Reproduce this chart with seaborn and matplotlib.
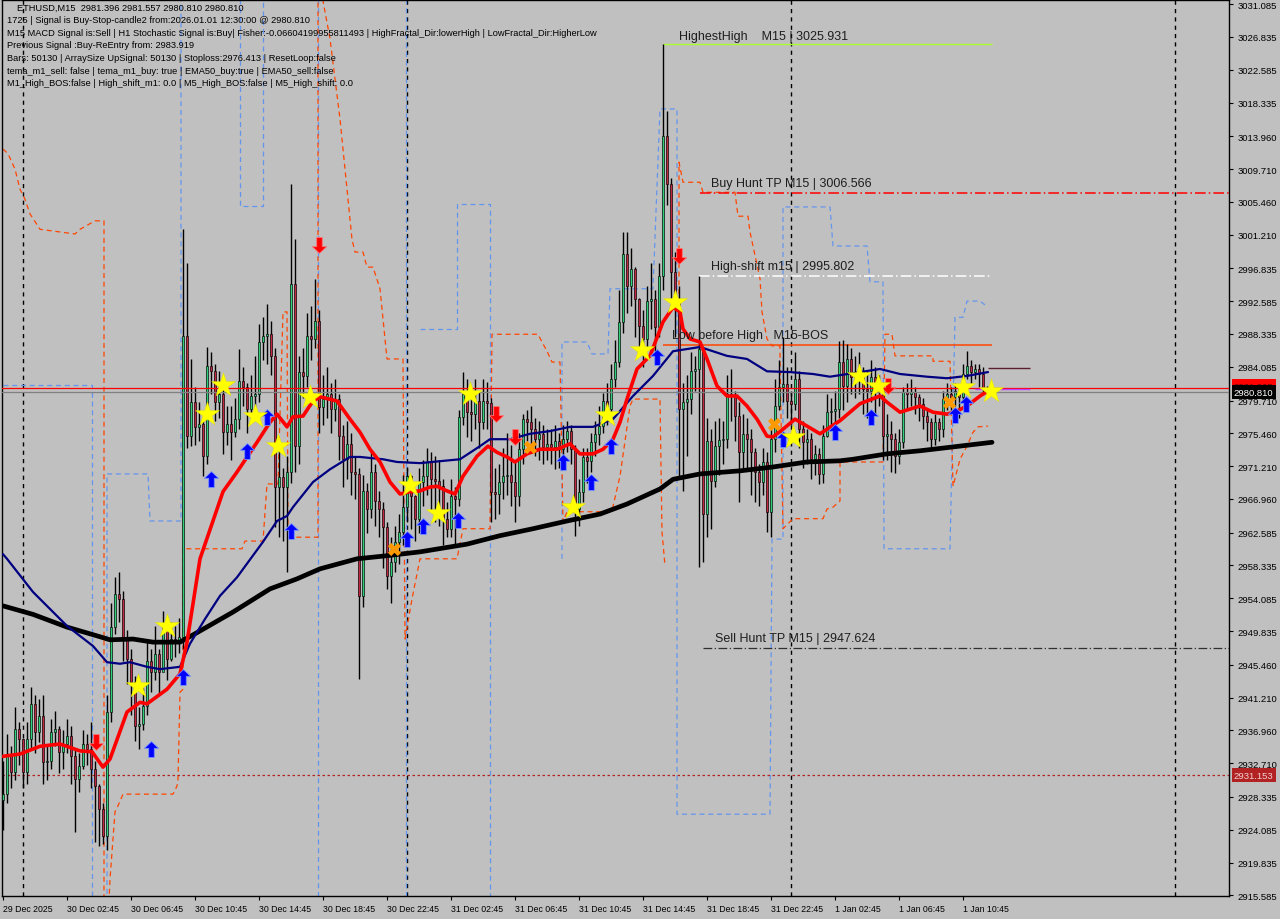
import numpy as np
import pandas as pd
import matplotlib
matplotlib.use("Agg")
import matplotlib.pyplot as plt
import matplotlib.transforms as mtransforms
from matplotlib.path import Path
import seaborn as sns

# ETHUSD M15 candles, bar 0 = 29 Dec 22:45, one bar per 15 min
first_open = 2927.9
closes = [
    2928.7, 2933.6, 2931.6, 2937.1, 2935.9, 2931.6, 2935.9, 2940.4, 2936.75, 2938.8,
    2932.9, 2933.0, 2936.75, 2937.1, 2934.2, 2935.2, 2936.2, 2933.6, 2930.7, 2932.3,
    2935.2, 2934.55, 2932.0, 2929.75, 2926.8, 2923.3, 2939.35, 2950.4, 2954.6, 2954.0,
    2948.8, 2946.2, 2943.2, 2937.5, 2937.8, 2940.1, 2946.0, 2944.5, 2946.9, 2944.5,
    2950.4, 2946.2, 2948.8, 2948.6, 2949.1, 2988.1, 2975.1, 2979.5, 2976.3, 2976.7,
    2972.5, 2984.2, 2983.5, 2979.5, 2980.6, 2975.6, 2976.7, 2975.6, 2977.3, 2982.2,
    2981.5, 2978.6, 2980.3, 2980.6, 2987.3, 2988.1, 2988.3, 2985.5, 2968.5, 2969.8,
    2968.5, 2970.45, 2994.8, 2973.8, 2983.4, 2982.9, 2988.1, 2987.7, 2990.0, 2978.9,
    2979.9, 2980.6, 2978.6, 2979.9, 2975.1, 2972.1, 2974.1, 2970.45, 2970.2, 2954.4,
    2968.0, 2965.65, 2970.45, 2966.7, 2965.65, 2963.3, 2957.0, 2958.8, 2961.4, 2962.7,
    2965.9, 2969.9, 2967.3, 2964.4, 2969.15, 2969.9, 2971.75, 2969.5, 2969.3, 2968.6,
    2964.4, 2963.1, 2967.3, 2967.0, 2977.6, 2980.6, 2978.2, 2978.0, 2979.65, 2976.9,
    2979.65, 2979.4, 2967.9, 2967.6, 2969.15, 2969.9, 2970.0, 2969.15, 2967.3, 2973.4,
    2977.3, 2976.9, 2976.0, 2974.7, 2975.4, 2973.7, 2974.1, 2973.7, 2974.5, 2973.4,
    2974.7, 2975.8, 2973.4, 2965.65, 2967.9, 2972.4, 2971.9, 2974.3, 2975.4, 2976.4,
    2979.65, 2978.6, 2982.5, 2984.7, 2989.9, 2998.7, 2994.55, 2996.8, 2992.9, 2989.4,
    2987.7, 2992.6, 2992.9, 2989.2, 2995.85, 3014.0, 3007.8, 2996.4, 2992.9, 2978.6,
    2979.5, 2979.9, 2983.5, 2983.8, 2986.4, 2965.0, 2974.5, 2969.3, 2973.8, 2974.6,
    2974.7, 2980.6, 2980.4, 2977.7, 2973.0, 2975.4, 2974.7, 2973.0, 2970.45, 2969.15,
    2971.75, 2965.3, 2974.7, 2979.0, 2981.5, 2981.85, 2979.65, 2979.3, 2982.5, 2976.0,
    2974.3, 2974.7, 2972.1, 2972.8, 2970.2, 2975.1, 2978.2, 2978.35, 2978.6, 2984.7,
    2981.6, 2985.1, 2982.8, 2983.2, 2983.5, 2981.2, 2980.95, 2982.8, 2981.2, 2981.5,
    2975.1, 2975.4, 2974.7, 2972.5, 2974.3, 2980.8, 2980.6, 2980.8, 2980.2, 2979.3,
    2977.7, 2976.9, 2974.7, 2976.9, 2976.0, 2979.9, 2980.6, 2980.2, 2980.95, 2980.2,
    2983.2, 2984.2, 2983.4, 2983.8, 2983.2, 2981.4, 2980.81,
]
highs = [
    2933.0, 2936.5, 2935.0, 2940.0, 2938.0, 2936.0, 2938.0, 2942.6, 2941.5, 2941.0,
    2941.5, 2935.0, 2938.5, 2939.5, 2937.5, 2937.0, 2938.5, 2937.5, 2934.5, 2934.0,
    2937.0, 2936.5, 2938.0, 2933.0, 2930.0, 2927.5, 2941.5, 2953.5, 2956.9, 2957.5,
    2955.0, 2950.0, 2947.5, 2944.0, 2940.0, 2942.5, 2948.5, 2947.5, 2950.5, 2947.5,
    2952.5, 2951.5, 2951.0, 2950.5, 2951.5, 3001.9, 2997.6, 2985.1, 2981.5, 2979.5,
    2977.5, 2986.6, 2986.0, 2984.5, 2983.5, 2981.5, 2979.0, 2979.0, 2980.0, 2986.4,
    2984.0, 2982.0, 2983.0, 2985.5, 2989.6, 2990.5, 2992.2, 2990.0, 2986.5, 2974.0,
    2971.0, 2972.5, 3007.8, 3000.6, 2985.5, 2986.5, 2991.0, 2992.0, 2995.5, 2991.5,
    2983.0, 2984.0, 2982.0, 2982.5, 2980.5, 2976.5, 2977.0, 2975.5, 2972.5, 2971.0,
    2970.0, 2969.0, 2973.0, 2971.5, 2968.0, 2966.5, 2964.0, 2962.0, 2963.5, 2965.0,
    2970.0, 2971.0, 2970.0, 2967.5, 2971.0, 2972.0, 2973.5, 2973.0, 2972.5, 2972.0,
    2969.5, 2966.5, 2969.5, 2968.5, 2978.5, 2983.4, 2982.5, 2981.0, 2982.5, 2981.0,
    2982.5, 2982.1, 2980.0, 2971.0, 2971.5, 2973.5, 2975.5, 2974.0, 2972.0, 2975.5,
    2978.0, 2978.5, 2979.0, 2977.5, 2977.0, 2976.5, 2976.0, 2976.0, 2976.5, 2975.5,
    2976.5, 2977.0, 2976.5, 2974.0, 2969.5, 2973.5, 2973.5, 2975.5, 2977.0, 2979.0,
    2980.7, 2982.0, 2984.5, 2987.5, 2994.0, 3001.5, 3001.5, 2999.5, 2997.0, 2993.0,
    2991.5, 2994.5, 2997.5, 2994.0, 2997.5, 3025.931, 3017.2, 3008.5, 2999.0, 2994.5,
    2982.0, 2983.0, 2986.0, 2985.5, 2995.802, 2986.5, 2977.5, 2976.0, 2977.0, 2977.5,
    2977.0, 2983.0, 2983.8, 2981.0, 2979.5, 2978.0, 2977.5, 2976.0, 2973.5, 2971.5,
    2973.5, 2973.0, 2976.0, 2982.5, 2985.0, 2988.0, 2984.0, 2981.0, 2986.0, 2983.5,
    2977.0, 2976.0, 2975.5, 2974.0, 2973.5, 2976.5, 2980.5, 2980.0, 2981.0, 2987.4,
    2987.5, 2987.0, 2986.5, 2985.5, 2986.0, 2984.0, 2983.5, 2985.0, 2984.0, 2983.0,
    2982.0, 2978.0, 2977.0, 2975.5, 2976.0, 2981.5, 2982.0, 2982.5, 2981.5, 2980.5,
    2980.0, 2978.5, 2977.5, 2978.0, 2977.5, 2981.0, 2982.0, 2981.5, 2982.0, 2981.5,
    2984.5, 2986.1, 2985.0, 2984.5, 2984.5, 2984.0, 2981.557,
]
lows = [
    2924.0, 2927.5, 2929.5, 2930.5, 2932.5, 2929.5, 2930.0, 2934.5, 2934.0, 2935.5,
    2930.0, 2930.5, 2932.0, 2935.0, 2931.5, 2932.0, 2934.0, 2930.0, 2923.8, 2929.0,
    2932.0, 2932.5, 2929.5, 2922.5, 2922.0, 2922.2, 2921.5, 2938.0, 2949.5, 2951.0,
    2946.0, 2943.0, 2939.0, 2935.6, 2934.5, 2937.0, 2939.0, 2942.0, 2943.5, 2941.5,
    2945.0, 2943.5, 2946.0, 2946.5, 2947.0, 2947.5, 2973.5, 2973.8, 2974.0, 2974.5,
    2969.9, 2971.5, 2980.5, 2977.0, 2977.5, 2972.8, 2974.0, 2972.0, 2975.0, 2976.0,
    2979.0, 2975.5, 2977.5, 2978.5, 2979.5, 2985.0, 2984.5, 2983.0, 2963.3, 2962.0,
    2961.5, 2957.5, 2969.0, 2970.5, 2971.5, 2980.0, 2981.5, 2985.0, 2986.5, 2975.5,
    2976.5, 2977.5, 2975.5, 2977.0, 2972.0, 2968.5, 2969.5, 2967.5, 2967.0, 2943.6,
    2953.0, 2962.5, 2964.5, 2963.5, 2962.0, 2958.0, 2955.3, 2953.5, 2957.5, 2958.5,
    2961.0, 2964.0, 2963.0, 2961.5, 2962.5, 2966.0, 2967.5, 2965.5, 2964.0, 2963.5,
    2961.0, 2962.0, 2962.0, 2961.1, 2966.0, 2976.5, 2975.0, 2974.5, 2976.0, 2973.5,
    2976.0, 2976.0, 2964.0, 2964.4, 2965.0, 2967.0, 2967.5, 2966.0, 2964.0, 2966.0,
    2971.5, 2974.5, 2973.0, 2972.5, 2972.0, 2971.5, 2972.0, 2971.5, 2970.8, 2971.0,
    2972.0, 2973.0, 2971.5, 2962.2, 2963.5, 2966.5, 2969.0, 2970.5, 2972.5, 2974.0,
    2975.5, 2976.5, 2977.5, 2981.5, 2984.0, 2988.5, 2991.0, 2992.0, 2988.0, 2986.0,
    2984.0, 2986.5, 2989.0, 2985.5, 2988.0, 2994.0, 3005.0, 2993.0, 2988.0, 2969.5,
    2968.0, 2972.5, 2978.0, 2981.0, 2958.2, 2958.8, 2962.0, 2963.0, 2968.5, 2970.0,
    2971.5, 2973.5, 2977.0, 2974.5, 2966.5, 2971.0, 2971.0, 2967.5, 2966.5, 2966.0,
    2967.5, 2962.7, 2962.0, 2973.0, 2978.5, 2979.5, 2977.5, 2976.5, 2978.5, 2973.5,
    2971.0, 2971.5, 2969.5, 2970.0, 2968.9, 2969.0, 2975.0, 2976.0, 2976.0, 2977.5,
    2978.5, 2979.5, 2980.5, 2980.0, 2980.5, 2978.0, 2977.5, 2979.5, 2978.0, 2979.0,
    2972.0, 2972.0, 2970.5, 2970.3, 2971.5, 2973.5, 2978.5, 2979.0, 2978.0, 2977.0,
    2976.0, 2974.5, 2973.5, 2974.0, 2974.5, 2975.0, 2978.5, 2978.5, 2979.0, 2977.5,
    2979.5, 2982.5, 2982.0, 2982.5, 2981.5, 2980.5, 2980.81,
]

time_tick_bars = [0, 16, 32, 48, 64, 80, 96, 112, 128, 144, 160, 176, 192, 208, 224, 240]
time_tick_labels = ["29 Dec 2025", "30 Dec 02:45", "30 Dec 06:45", "30 Dec 10:45",
                    "30 Dec 14:45", "30 Dec 18:45", "30 Dec 22:45", "31 Dec 02:45",
                    "31 Dec 06:45", "31 Dec 10:45", "31 Dec 14:45", "31 Dec 18:45",
                    "31 Dec 22:45", "1 Jan 02:45", "1 Jan 06:45", "1 Jan 10:45"]
price_ticks = [3031.085, 3026.835, 3022.585, 3018.335, 3013.960, 3009.710, 3005.460,
               3001.210, 2996.835, 2992.585, 2988.335, 2984.085, 2979.710, 2975.460,
               2971.210, 2966.960, 2962.585, 2958.335, 2954.085, 2949.835, 2945.460,
               2941.210, 2936.960, 2932.710, 2928.335, 2924.085, 2919.835, 2915.585]
day_breaks = [5, 101, 197, 293]

# fast MA (red, thick)
red_x = [0, 4.25, 9.25, 14.25, 19.25, 22.25, 25, 26.75, 31, 34.25, 36, 41, 44.25, 46, 49.25,
         55, 58.5, 63.5, 66.75, 68.5, 71, 72.5, 75, 77.5, 79.25, 83.5, 86.75, 89.25, 91.75,
         94.25, 96.75, 99.25, 101.75, 104.25, 106.75, 108.5, 111, 113, 115, 118.5, 121.25,
         123.5, 126, 128, 131, 134.25, 138.5, 141.75, 144.25, 147.5, 150, 152.5, 154.25, 156,
         158.5, 161.75, 165, 167.5, 169.25, 170, 171.75, 174.25, 176, 178.5, 181, 183.5, 186,
         188.5, 191, 192.5, 195, 198, 201, 204.25, 209.25, 214.25, 219.25, 221, 224.25,
         229.25, 232.5, 236, 238.5, 241, 244.25, 246.25]
red_y = [2933.6, 2933.9, 2934.9, 2935.2, 2934.3, 2934.2, 2932.2, 2933.25, 2939.35, 2940.6,
         2940.4, 2942.3, 2944.3, 2948.4, 2959.2, 2967.9, 2970.45, 2974.3, 2976.9, 2977.95,
         2976.3, 2977.6, 2977.7, 2979.65, 2980.2, 2979.65, 2977.3, 2975.6, 2973.4, 2971.75,
         2969.15, 2967.6, 2967.9, 2968.0, 2968.5, 2968.6, 2968.0, 2967.6, 2969.9, 2972.5,
         2973.8, 2973.0, 2972.4, 2971.75, 2972.8, 2973.4, 2973.4, 2974.1, 2972.8, 2972.8,
         2973.4, 2974.7, 2976.9, 2979.9, 2983.8, 2985.5, 2989.9, 2991.8, 2991.2, 2989.0,
         2987.7, 2987.3, 2985.1, 2981.6, 2980.3, 2980.3, 2979.0, 2977.3, 2975.1, 2975.0,
         2976.0, 2977.3, 2976.4, 2975.4, 2977.1, 2979.3, 2980.3, 2979.5, 2978.2, 2979.0,
         2978.2, 2977.95, 2978.35, 2979.0, 2980.3, 2980.95]

# EMA50 (navy)
navy_x = [0, 1, 7.5, 16, 22.5, 26, 29.25, 31.75, 36, 39.25, 44.25, 46.75, 50.5, 54.25, 58.5,
          65, 68.5, 71, 72.5, 77.5, 81.75, 86.75, 89.25, 95, 98.5, 104.25, 114.25, 119.25,
          121.75, 126.75, 131.75, 136.75, 141.75, 147.5, 152.5, 157.5, 162.5, 167.5, 174.25,
          181, 186, 191, 196.75, 202.5, 206.75, 214.25, 219.25, 224.25, 231, 236, 241, 246.25]
navy_y = [2959.8, 2959.2, 2954.9, 2950.5, 2947.9, 2945.8, 2945.6, 2945.8, 2945.2, 2944.9,
          2945.2, 2948.2, 2951.4, 2954.4, 2956.8, 2961.4, 2964.1, 2964.75, 2965.9, 2969.15,
          2970.8, 2972.4, 2972.4, 2972.1, 2971.75, 2971.6, 2972.1, 2973.8, 2974.7, 2974.7,
          2975.4, 2975.75, 2976.3, 2976.3, 2977.3, 2980.3, 2982.9, 2986.1, 2986.65, 2985.5,
          2985.1, 2983.5, 2983.4, 2983.15, 2982.8, 2983.4, 2983.8, 2983.15, 2982.8, 2982.6,
          2982.9, 2983.4]

# EMA200 (black, thick)
black_x = [0, 7.5, 16, 24.25, 26.75, 32.5, 37.5, 44.25, 49.25, 57.5, 66.75, 73.5, 79.25,
           88.5, 96, 104.25, 116, 124.25, 132.5, 141, 149.25, 156, 164.25, 167.5, 174.25,
           184.25, 192.5, 201, 209.25, 212.5, 221, 229.25, 237.5, 247.25]
black_y = [2953.1, 2952.0, 2950.35, 2949.1, 2948.7, 2948.8, 2948.4, 2948.4, 2949.85, 2952.3,
           2955.3, 2956.6, 2957.9, 2959.2, 2959.6, 2960.1, 2961.1, 2962.2, 2963.1, 2964.1,
           2965.0, 2966.3, 2968.25, 2969.5, 2970.2, 2970.6, 2971.1, 2971.75, 2971.9, 2972.1,
           2972.8, 2973.2, 2973.7, 2974.3]

# step channels (blue / orange dashed), one list per unbroken piece
blue_pieces = [
    ([0, 22.25, 22.25], [2981.7, 2981.7, 2912]),
    ([26, 26, 36.25, 36.75, 44.5, 44.5], [2912, 2970.2, 2970.2, 2964.1, 2964.1, 3035]),
    ([59.25, 59.25, 65, 65], [3035, 3004.9, 3004.9, 3035]),
    ([78.75, 78.75], [3035, 2912]),
    ([100.75, 100.75], [3035, 2912]),
    ([104.25, 113.5, 113.5, 121.75, 121.75], [2989.0, 2989.0, 3005.2, 3005.2, 2912]),
    ([139.75, 139.75, 146, 147.25, 151.25, 151.75, 162.5, 164.25, 168.5, 168.5, 191.75,
      192.25, 195, 195, 206.75, 207.5, 216, 216.75, 220, 220.25, 236.75, 238, 240, 241,
      244.25, 246],
     [2959.2, 2987.3, 2987.3, 2985.75, 2985.75, 2994.2, 2994.2, 3017.5, 3017.5, 2926.1,
      2926.1, 2961.75, 2961.75, 3004.8, 3004.8, 2999.74, 2999.74, 2995.1, 2995.1, 2960.5,
      2960.5, 2990.5, 2990.5, 2992.6, 2992.6, 2991.9]),
]
orange_pieces = [
    ([0, 1.25, 3, 4.25, 5.5, 6.75, 9.25, 18, 19.25, 23, 25.25, 25.25],
     [3012.3, 3011.7, 3009.7, 3007.1, 3005.8, 3003.9, 3001.9, 3001.3, 3001.9, 3003.0,
      3003.0, 2912]),
    ([26.25, 26.75, 28, 28.75, 30, 42.5, 43.5, 43.75, 44.25, 45, 45, 59.75, 60.5, 65, 66,
      68.75, 70, 71, 71.25, 78, 78.75, 78.75, 81.75, 84.25, 85.75, 87.25, 88, 90, 91, 92.5,
      94.25, 96, 100, 100.5, 102.25, 104.25, 113.5, 115, 121.75, 122.25, 133.75, 134.75,
      136, 137.25, 139.25, 139.75, 140, 141, 151.75, 152.5, 154.25, 156.75, 157.5, 164.25,
      164.75, 165.5],
     [2912, 2917.7, 2926.4, 2927.2, 2928.7, 2928.7, 2929.75, 2930.65, 2941.9, 2942.3,
      2960.5, 2960.5, 2961.5, 2961.5, 2968.9, 2968.9, 2991.2, 2991.2, 2962.0, 2962.0,
      2962.0, 3035, 3026.6, 3016.2, 3008.4, 3000.6, 2998.95, 2998.95, 2997.0, 2997.0,
      2994.2, 2985.1, 2985.1, 2948.8, 2954.0, 2959.2, 2959.2, 2963.1, 2963.1, 2988.3,
      2988.3, 2987.3, 2986.1, 2984.7, 2984.7, 2971.2, 2964.0, 2965.3, 2965.3, 2966.0,
      2969.9, 2979.0, 2979.9, 2979.9, 2962.7, 2958.3]),
    ([169, 169, 170, 174.25, 175, 183, 183.75, 186.25, 186.75, 189.25, 189.75, 191, 192.25,
      194.25, 194.25, 195, 197.5, 205, 206, 207.5, 209.25, 209.25, 220, 220.5, 222.25, 223,
      232.5, 232.5, 236.75, 237.5, 239.25, 241, 242.5, 243.75, 246.25],
     [2979.9, 3010.6, 3008.0, 3008.0, 3006.7, 3006.7, 3003.6, 3003.6, 3001.55, 2995.5,
      2991.2, 2987.7, 2986.8, 2986.8, 2985.1, 2963.1, 2964.4, 2964.4, 2965.65, 2965.9,
      2966.7, 2971.75, 2971.75, 2988.3, 2988.3, 2985.5, 2985.5, 2984.8, 2984.8, 2968.6,
      2972.1, 2973.8, 2975.6, 2976.3, 2976.4]),
]

# signal markers (bar, price)
star_x = [33.75, 41, 51, 55, 63, 68.75, 76.75, 101.75, 108.75, 116.75, 142.5, 151, 159.75,
          168, 197.5, 214, 218.75, 240, 247]
star_y = [2942.7, 2950.5, 2977.95, 2981.7, 2977.7, 2973.8, 2980.2, 2968.8, 2965.2, 2980.6,
          2965.9, 2977.8, 2986.3, 2992.5, 2975.0, 2982.9, 2981.6, 2981.5, 2980.95]
up_x = [37, 45, 52, 61, 66, 72, 101, 105, 113.75, 140, 147, 152, 163.5, 195, 208, 217, 238,
        240.75]
up_y = [2934.55, 2943.9, 2969.5, 2973.2, 2977.6, 2962.8, 2961.8, 2963.5, 2964.2, 2971.75,
        2969.15, 2973.8, 2985.35, 2974.7, 2975.6, 2977.6, 2977.8, 2979.3]
down_x = [23.25, 79, 123.25, 128, 169, 221.25]
down_y = [2935.5, 2999.9, 2977.95, 2975.0, 2998.4, 2981.6]
cross_x = [97.75, 131.75, 192.75, 236.5]
cross_y = [2960.5, 2973.7, 2976.7, 2979.5]

info_lines = [
    "ETHUSD,M15  2981.396 2981.557 2980.810 2980.810",
    "1725 | Signal is Buy-Stop-candle2 from:2026.01.01 12:30:00 @ 2980.810",
    "M15 MACD Signal is:Sell | H1 Stochastic Signal is:Buy| Fisher:-0.06604199955811493 | "
    "HighFractal_Dir:lowerHigh | LowFractal_Dir:HigherLow",
    "Previous Signal :Buy-ReEntry from: 2983.919",
    "Bars: 50130 | ArraySize UpSignal: 50130 | Stoploss:2976.413 | ResetLoop:false",
    "tema_m1_sell: false | tema_m1_buy: true | EMA50_buy:true | EMA50_sell:false",
    "M1_High_BOS:false | High_shift_m1: 0.0 | M5_High_BOS:false | M5_High_shift: 0.0",
]

BG = "#C0C0C0"
sns.set_style("ticks", {"axes.facecolor": BG, "figure.facecolor": BG,
                        "axes.edgecolor": "black"})
plt.rcParams["font.family"] = ["Liberation Sans", "DejaVu Sans"]

fig = plt.figure(figsize=(12.8, 9.2), dpi=100, facecolor=BG)
ax = fig.add_axes([2 / 1280, 23 / 920, 1227 / 1280, 896 / 920])
ax.set_facecolor(BG)
ax.set_xlim(-0.25, 306.5)
ax.set_ylim(2915.5, 3031.62)

for b in day_breaks:
    ax.axvline(b, color="black", lw=1, ls=(0, (3, 3)), zorder=1)


def pieces_frame(pieces):
    rows = []
    for k, (xs, ys) in enumerate(pieces):
        for x, y in zip(xs, ys):
            rows.append({"seg": k, "bar": x, "price": y})
    return pd.DataFrame(rows)


sns.lineplot(data=pieces_frame(blue_pieces), x="bar", y="price", units="seg",
             estimator=None, sort=False, color="#6495ED", lw=0.9, ls=(0, (4, 3)),
             legend=False, ax=ax, zorder=2)
sns.lineplot(data=pieces_frame(orange_pieces), x="bar", y="price", units="seg",
             estimator=None, sort=False, color="#FF4500", lw=0.9, ls=(0, (4, 3)),
             legend=False, ax=ax, zorder=2)

# level lines
ax.hlines(3025.931, 165, 247.25, color="#ADFF2F", lw=1, zorder=2)
ax.hlines(3006.566, 174.25, 306.5, color="#FF0000", lw=1.1, ls=(0, (7, 2, 1, 2)), zorder=2)
ax.hlines(2995.802, 174, 247.25, color="white", lw=1.1, ls=(0, (7, 2, 1, 2)), zorder=2)
ax.hlines(2986.9, 165, 247.25, color="#FF4500", lw=1.1, zorder=2)
ax.hlines(2947.624, 175, 306.5, color="#303030", lw=0.9, ls=(0, (7, 2, 1, 2)), zorder=2)
ax.axhline(2931.153, color="#B22222", lw=0.9, ls=(0, (2, 2)), zorder=2)
ax.hlines(2983.9, 246.25, 256.75, color="#5a2030", lw=1, zorder=6)
ax.hlines(2981.2, 243, 256.75, color="#C040FF", lw=1, zorder=6)

# candles
opens = [first_open] + closes[:-1]
bars = np.arange(len(closes))
o = np.array(opens)
c = np.array(closes)
ax.vlines(bars, lows, highs, color="black", lw=1, zorder=3)
body_lo = np.minimum(o, c)
body_h = np.maximum(np.abs(c - o), 0.12)
cols = np.where(c >= o, "#2FD07A", "#C0283F")
ax.bar(bars, body_h, bottom=body_lo, width=0.72, color=cols, edgecolor="black",
       linewidth=0.45, zorder=4)

ax.axhline(2981.395, color="#FF0000", lw=0.9, zorder=4.5)
ax.axhline(2980.81, color="#808080", lw=0.9, zorder=4.5)

sns.lineplot(x=black_x, y=black_y, color="black", lw=3.4, ax=ax, legend=False, zorder=5)
sns.lineplot(x=navy_x, y=navy_y, color="#000080", lw=1.6, ax=ax, legend=False, zorder=5)
sns.lineplot(x=red_x, y=red_y, color="#FF0000", lw=2.6, ax=ax, legend=False, zorder=5)

up_arrow = Path([(0, 1), (-0.9, 0.15), (-0.35, 0.15), (-0.35, -1), (0.35, -1),
                 (0.35, 0.15), (0.9, 0.15), (0, 1)])
down_arrow = Path([(0, -1), (-0.9, -0.15), (-0.35, -0.15), (-0.35, 1), (0.35, 1),
                   (0.35, -0.15), (0.9, -0.15), (0, -1)])
sns.scatterplot(x=up_x, y=up_y, marker=up_arrow, s=130, color="#0000FF",
                edgecolor="#7090FF", linewidth=0.6, ax=ax, zorder=7)
sns.scatterplot(x=down_x, y=down_y, marker=down_arrow, s=130, color="#FF0000",
                edgecolor="#FF7070", linewidth=0.6, ax=ax, zorder=7)
sns.scatterplot(x=star_x, y=star_y, marker="*", s=330, color="#FFFF00",
                edgecolor="#E0E000", linewidth=0.3, ax=ax, zorder=7)
sns.scatterplot(x=cross_x, y=cross_y, marker="X", s=90, color="#FF9900",
                edgecolor="#FF9900", linewidth=0, ax=ax, zorder=7)

lab = dict(fontsize=9, color="#1e1e1e", va="center", ha="left", zorder=8)
ax.text(169, 3027.0, "HighestHigh    M15 | 3025.931", **lab)
ax.text(177, 3007.9, "Buy Hunt TP M15 | 3006.566", **lab)
ax.text(177, 2997.1, "High-shift m15 | 2995.802", **lab)
ax.text(167.25, 2988.2, "Low before High   M15-BOS", **lab)
ax.text(178, 2948.9, "Sell Hunt TP M15 | 2947.624", **lab)

# axes / ticks
ax.yaxis.tick_right()
ax.set_yticks(price_ticks)
ax.set_yticklabels([f"{p:.3f}" for p in price_ticks])
ax.tick_params(axis="y", length=3, width=0.8, pad=3, labelsize=6.8, colors="black")
ax.set_xticks(time_tick_bars)
ax.set_xticklabels(time_tick_labels)
ax.tick_params(axis="x", length=3, width=0.8, pad=3, labelsize=6.3, colors="black")
for t in ax.get_xticklabels():
    t.set_ha("left")
ax.set_xlabel("")
ax.set_ylabel("")
for sp in ax.spines.values():
    sp.set_color("black")
    sp.set_linewidth(1)

trans = mtransforms.blended_transform_factory(ax.transAxes, ax.transData)
box = dict(fontsize=6.8, va="center", ha="left", transform=trans, clip_on=False)
ax.text(1.004, 2981.55, "2981.395", color="#600000",
        bbox=dict(boxstyle="square,pad=0.25", fc="#FF0000", ec="none"), zorder=10, **box)
ax.text(1.004, 2980.81, "2980.810", color="white",
        bbox=dict(boxstyle="square,pad=0.25", fc="black", ec="none"), zorder=11, **box)
ax.text(1.004, 2931.153, "2931.153", color="#F0D0D0",
        bbox=dict(boxstyle="square,pad=0.25", fc="#B22222", ec="none"), zorder=11, **box)

for k, line in enumerate(info_lines):
    xpx = 17 if k == 0 else 7
    fig.text(xpx / 1280, 1 - (8 + 12.6 * k) / 920, line, fontsize=6.7,
             color="black", va="center", ha="left")

fig.savefig("out.png", dpi=100, facecolor=BG)
